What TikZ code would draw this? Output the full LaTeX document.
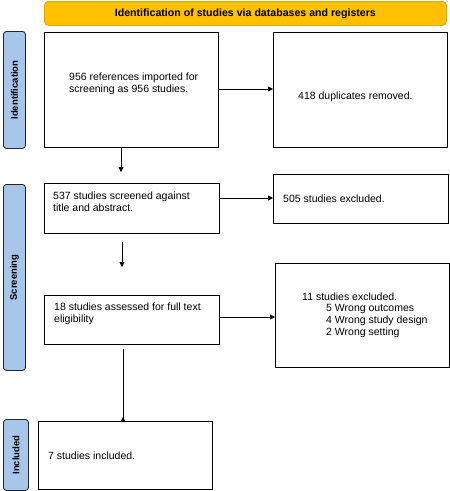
\documentclass[tikz,border=0pt]{standalone}
\usepackage{fontspec}
\setmainfont{Liberation Sans}
\definecolor{headfill}{HTML}{FFC000}
\definecolor{headline}{HTML}{E0A800}
\definecolor{barfill}{HTML}{A7C6EA}
\tikzset{
  stagebox/.style={draw=black, line width=.9pt, fill=white, anchor=north west, inner sep=0pt},
  sidebar/.style={draw=black!85, line width=.9pt, fill=barfill, rounded corners=3pt, anchor=north west, inner sep=0pt},
  sidelabel/.style={rotate=90, font=\fontsize{9.5}{11}\selectfont\bfseries},
  boxtext/.style={anchor=west, align=left, inner sep=0pt, font=\fontsize{10.5}{12}\selectfont},
  flow/.style={-{Triangle[length=5pt,width=5pt]}, line width=.8pt}
}
\usetikzlibrary{arrows.meta}
\begin{document}
\begin{tikzpicture}[x=1pt,y=-1pt]
  \useasboundingbox (0,0) rectangle (450,491);
  % header
  \node[draw=headline, line width=.8pt, fill=headfill, rounded corners=4pt, anchor=north west,
        minimum width=402pt, minimum height=24pt] (head) at (44,1) {};
  \node[font=\fontsize{10.6}{12}\selectfont\bfseries] at (head.center) {Identification of studies via databases and registers};
  % side bars
  \node[sidebar, minimum width=22pt, minimum height=117pt] (barid) at (3,31) {};
  \node[sidelabel] at (barid.center) {Identification};
  \node[sidebar, minimum width=22pt, minimum height=186pt] (barsc) at (3,184) {};
  \node[sidelabel] at (barsc.center) {Screening};
  \node[sidebar, minimum width=25pt, minimum height=71pt] (barin) at (3,419) {};
  \node[sidelabel] at (barin.center) {Included};
  % boxes
  \node[stagebox, minimum width=174pt, minimum height=115pt] (refs) at (44,32) {};
  \node[boxtext] at (69,83.5) {956 references imported for\\screening as 956 studies.};
  \node[stagebox, minimum width=174pt, minimum height=115pt] (dups) at (273,32) {};
  \node[boxtext] at (298,97) {418 duplicates removed.};
  \node[stagebox, minimum width=175pt, minimum height=50pt] (screen) at (44,183) {};
  \node[boxtext] at (53,202) {537 studies screened against\\title and abstract.};
  \node[stagebox, minimum width=175pt, minimum height=49pt] (excl) at (273,174) {};
  \node[boxtext] at (283,199) {505 studies excluded.};
  \node[stagebox, minimum width=175pt, minimum height=49pt] (full) at (44,295) {};
  \node[boxtext] at (54,313.5) {18 studies assessed for full text\\eligibility};
  \node[stagebox, minimum width=174pt, minimum height=104pt] (fullex) at (275,263) {};
  \node[boxtext] at (302,297) {11 studies excluded.};
  \node[boxtext] at (326,321) {5 Wrong outcomes\\4 Wrong study design\\2 Wrong setting};
  \node[stagebox, minimum width=174pt, minimum height=68pt] (incl) at (38,421) {};
  \node[boxtext] at (48,456) {7 studies included.};
  % arrows
  \draw[flow] (refs.east |- 0,89) -- (dups.west |- 0,89);
  \draw[flow] (refs.south -| 121,0) -- (121,172);
  \coordinate (gapend) at (122,267);
  \draw[flow] (screen.south -| 122,0) ++(0,8) -- (gapend);
  \draw[flow] (screen.east |- 0,198) -- (excl.west |- 0,198);
  \draw[flow] (full.east |- 0,317) -- (fullex.west |- 0,317);
  \draw[flow] (full.south -| 123,0) ++(0,4) -- (incl.north -| 123,0) ++(0,-4) ;
\end{tikzpicture}
\end{document}
